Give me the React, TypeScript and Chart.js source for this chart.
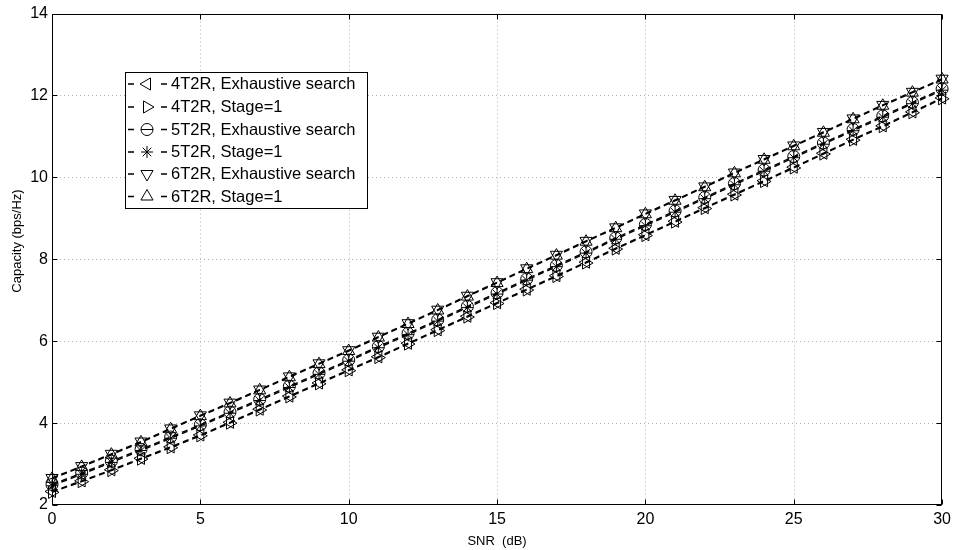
import React, { useEffect, useRef } from "react";
import { Chart, registerables } from "chart.js";

Chart.register(...registerables);

const FONT = "'Liberation Sans', Arial, Helvetica, sans-serif";

const snrDb = [0, 1, 2, 3, 4, 5, 6, 7, 8, 9, 10, 11, 12, 13, 14, 15, 16, 17, 18, 19, 20, 21, 22, 23, 24, 25, 26, 27, 28, 29, 30];
const xTickValues = [0, 5, 10, 15, 20, 25, 30];
const yTickValues = [2, 4, 6, 8, 10, 12, 14];

const cap4Exh = [2.33, 2.59, 2.86, 3.14, 3.42, 3.71, 4.02, 4.34, 4.66, 4.98, 5.30, 5.62, 5.95, 6.28, 6.61, 6.94, 7.27, 7.60, 7.93, 8.27, 8.60, 8.93, 9.26, 9.59, 9.92, 10.25, 10.59, 10.93, 11.26, 11.60, 11.94];
const cap4St1 = [2.31, 2.57, 2.84, 3.12, 3.40, 3.69, 4.00, 4.32, 4.64, 4.96, 5.28, 5.60, 5.93, 6.26, 6.59, 6.92, 7.25, 7.58, 7.91, 8.25, 8.58, 8.91, 9.24, 9.57, 9.90, 10.23, 10.57, 10.91, 11.24, 11.58, 11.92];
const cap5Exh = [2.50, 2.78, 3.07, 3.36, 3.66, 3.96, 4.27, 4.58, 4.90, 5.22, 5.54, 5.87, 6.19, 6.52, 6.85, 7.18, 7.52, 7.85, 8.18, 8.52, 8.85, 9.18, 9.51, 9.85, 10.18, 10.51, 10.84, 11.17, 11.50, 11.83, 12.16];
const cap5St1 = [2.47, 2.75, 3.04, 3.33, 3.63, 3.93, 4.24, 4.55, 4.87, 5.19, 5.51, 5.84, 6.16, 6.49, 6.82, 7.15, 7.49, 7.82, 8.15, 8.49, 8.82, 9.15, 9.48, 9.82, 10.15, 10.48, 10.81, 11.14, 11.47, 11.80, 12.13];
const cap6Exh = [2.66, 2.95, 3.25, 3.55, 3.87, 4.19, 4.50, 4.82, 5.14, 5.46, 5.78, 6.11, 6.44, 6.77, 7.11, 7.44, 7.78, 8.11, 8.45, 8.78, 9.12, 9.45, 9.78, 10.12, 10.45, 10.78, 11.11, 11.44, 11.77, 12.09, 12.41];
const cap6St1 = [2.64, 2.93, 3.23, 3.53, 3.85, 4.17, 4.48, 4.80, 5.12, 5.44, 5.76, 6.09, 6.42, 6.75, 7.09, 7.42, 7.76, 8.09, 8.43, 8.76, 9.10, 9.43, 9.76, 10.10, 10.43, 10.76, 11.09, 11.42, 11.75, 12.07, 12.39];

const seriesLabels = [
  "4T2R, Exhaustive search",
  "4T2R, Stage=1",
  "5T2R, Exhaustive search",
  "5T2R, Stage=1",
  "6T2R, Exhaustive search",
  "6T2R, Stage=1",
];
const seriesValues = [cap4Exh, cap4St1, cap5Exh, cap5St1, cap6Exh, cap6St1];
const seriesMarkers = ["triangle", "triangle", "circle", "star", "triangle", "triangle"];
const seriesRotation = [-90, 90, 0, 0, 180, 0];

const xTitle = "SNR  (dB)";
const yTitle = "Capacity (bps/Hz)";

function drawMarker(ctx: CanvasRenderingContext2D, style: string, rot: number, x: number, y: number, r: number) {
  ctx.beginPath();
  if (style === "triangle") {
    let rad = (rot * Math.PI) / 180;
    ctx.moveTo(x + Math.sin(rad) * r, y - Math.cos(rad) * r);
    rad += (2 * Math.PI) / 3;
    ctx.lineTo(x + Math.sin(rad) * r, y - Math.cos(rad) * r);
    rad += (2 * Math.PI) / 3;
    ctx.lineTo(x + Math.sin(rad) * r, y - Math.cos(rad) * r);
    ctx.closePath();
  } else if (style === "circle") {
    ctx.arc(x, y, r, 0, Math.PI * 2);
  } else {
    for (let k = 0; k < 4; k++) {
      const a = (k * Math.PI) / 4;
      ctx.moveTo(x + Math.cos(a) * r, y + Math.sin(a) * r);
      ctx.lineTo(x - Math.cos(a) * r, y - Math.sin(a) * r);
    }
  }
  ctx.stroke();
}

const framePlugin = {
  id: "matlabFrame",
  beforeDatasetsDraw(chart: any) {
    const { ctx, chartArea: a, scales } = chart;
    const xs = scales.x;
    const ys = scales.y;
    ctx.save();
    ctx.strokeStyle = "#b0b0b0";
    ctx.lineWidth = 1;
    ctx.setLineDash([1, 3]);
    for (const t of xTickValues) {
      if (t === xs.min || t === xs.max) continue;
      const px = Math.round(xs.getPixelForValue(t)) + 0.5;
      ctx.beginPath();
      ctx.moveTo(px, a.top);
      ctx.lineTo(px, a.bottom);
      ctx.stroke();
    }
    for (const t of yTickValues) {
      if (t === ys.min || t === ys.max) continue;
      const py = Math.round(ys.getPixelForValue(t)) + 0.5;
      ctx.beginPath();
      ctx.moveTo(a.left, py);
      ctx.lineTo(a.right, py);
      ctx.stroke();
    }
    ctx.restore();
  },
  afterDatasetsDraw(chart: any) {
    const { ctx, chartArea: a, scales } = chart;
    const xs = scales.x;
    const ys = scales.y;
    ctx.save();
    ctx.setLineDash([]);
    ctx.strokeStyle = "#000";
    ctx.lineWidth = 1;
    const L = Math.round(a.left) + 0.5;
    const R = Math.round(a.right) - 0.5;
    const T = Math.round(a.top) + 0.5;
    const B = Math.round(a.bottom) - 0.5;
    ctx.strokeRect(L, T, R - L, B - T);
    const tl = 5;
    for (const t of xTickValues) {
      const px = Math.round(xs.getPixelForValue(t)) + 0.5;
      ctx.beginPath();
      ctx.moveTo(px, B);
      ctx.lineTo(px, B - tl);
      ctx.moveTo(px, T);
      ctx.lineTo(px, T + tl);
      ctx.stroke();
    }
    for (const t of yTickValues) {
      const py = Math.round(ys.getPixelForValue(t)) + 0.5;
      ctx.beginPath();
      ctx.moveTo(L, py);
      ctx.lineTo(L + tl, py);
      ctx.moveTo(R, py);
      ctx.lineTo(R - tl, py);
      ctx.stroke();
    }

    // axis titles
    ctx.fillStyle = "#000";
    ctx.font = `13px ${FONT}`;
    ctx.textAlign = "center";
    ctx.textBaseline = "middle";
    ctx.fillText(xTitle, (a.left + a.right) / 2, 541);
    ctx.save();
    ctx.translate(17, 241);
    ctx.rotate(-Math.PI / 2);
    ctx.fillText(yTitle, 0, 0);
    ctx.restore();

    // legend
    const bx = 125.5, by = 72.5, bw = 242, bh = 136;
    ctx.fillStyle = "#fff";
    ctx.fillRect(bx, by, bw, bh);
    ctx.strokeStyle = "#000";
    ctx.strokeRect(bx, by, bw, bh);
    ctx.font = `16.5px ${FONT}`;
    ctx.textAlign = "left";
    ctx.textBaseline = "middle";
    const rowY = [84, 107, 129.5, 152, 174, 196.5];
    seriesLabels.forEach((lab, i) => {
      const yy = rowY[i];
      ctx.strokeStyle = "#000";
      ctx.lineWidth = 1.3;
      ctx.beginPath();
      ctx.moveTo(128, yy);
      ctx.lineTo(134, yy);
      ctx.moveTo(161, yy);
      ctx.lineTo(167, yy);
      ctx.stroke();
      ctx.lineWidth = 1;
      const st = seriesMarkers[i];
      drawMarker(ctx, st, seriesRotation[i], 147, yy, st === "circle" ? 6 : st === "star" ? 6 : 7);
      if (st === "circle") {
        ctx.beginPath();
        ctx.moveTo(141, yy);
        ctx.lineTo(153, yy);
        ctx.stroke();
      }
      ctx.fillStyle = "#000";
      ctx.fillText(lab, 171, yy + 0.5);
    });
    ctx.restore();
  },
};

export default function App() {
  const canvasRef = useRef<HTMLCanvasElement | null>(null);

  useEffect(() => {
    const canvas = canvasRef.current;
    if (!canvas) return;
    const datasets = seriesLabels.map((label, i) => ({
      label,
      data: snrDb.map((x, j) => ({ x, y: seriesValues[i][j] })),
      borderColor: "#000",
      backgroundColor: "rgba(0,0,0,0)",
      borderWidth: 1.4,
      borderDash: [6, 4],
      pointStyle: seriesMarkers[i] as any,
      pointRotation: seriesRotation[i],
      pointRadius: seriesMarkers[i] === "triangle" ? 7 : 6,
      pointBorderColor: "#000",
      pointBackgroundColor: "rgba(0,0,0,0)",
      pointBorderWidth: 1,
      showLine: true,
      fill: false,
      tension: 0,
      clip: false as any,
    }));

    const chart = new Chart(canvas, {
      type: "line",
      data: { datasets },
      options: {
        animation: false,
        responsive: false,
        devicePixelRatio: 1,
        layout: { padding: { top: 13, right: 13, left: 0, bottom: 0 } },
        plugins: { legend: { display: false }, tooltip: { enabled: false }, title: { display: false } },
        scales: {
          x: {
            type: "linear",
            min: 0,
            max: 30,
            afterFit: (s: any) => { s.height = 45; },
            afterBuildTicks: (s: any) => { s.ticks = xTickValues.map((v) => ({ value: v })); },
            grid: { display: false, drawTicks: false },
            border: { display: false },
            ticks: { color: "#000", font: { family: FONT, size: 16 }, padding: 5, maxRotation: 0 },
          },
          y: {
            type: "linear",
            min: 2,
            max: 14,
            afterFit: (s: any) => { s.width = 52; },
            afterBuildTicks: (s: any) => { s.ticks = yTickValues.map((v) => ({ value: v })); },
            grid: { display: false, drawTicks: false },
            border: { display: false },
            ticks: { color: "#000", font: { family: FONT, size: 16 }, padding: 4 },
          },
        },
      },
      plugins: [framePlugin],
    });
    return () => chart.destroy();
  }, []);

  return (
    <div style={{ position: "fixed", left: 0, top: 0, width: 956, height: 550, background: "#fff" }}>
      <canvas ref={canvasRef} width={956} height={550} style={{ width: 956, height: 550, display: "block" }} />
    </div>
  );
}
